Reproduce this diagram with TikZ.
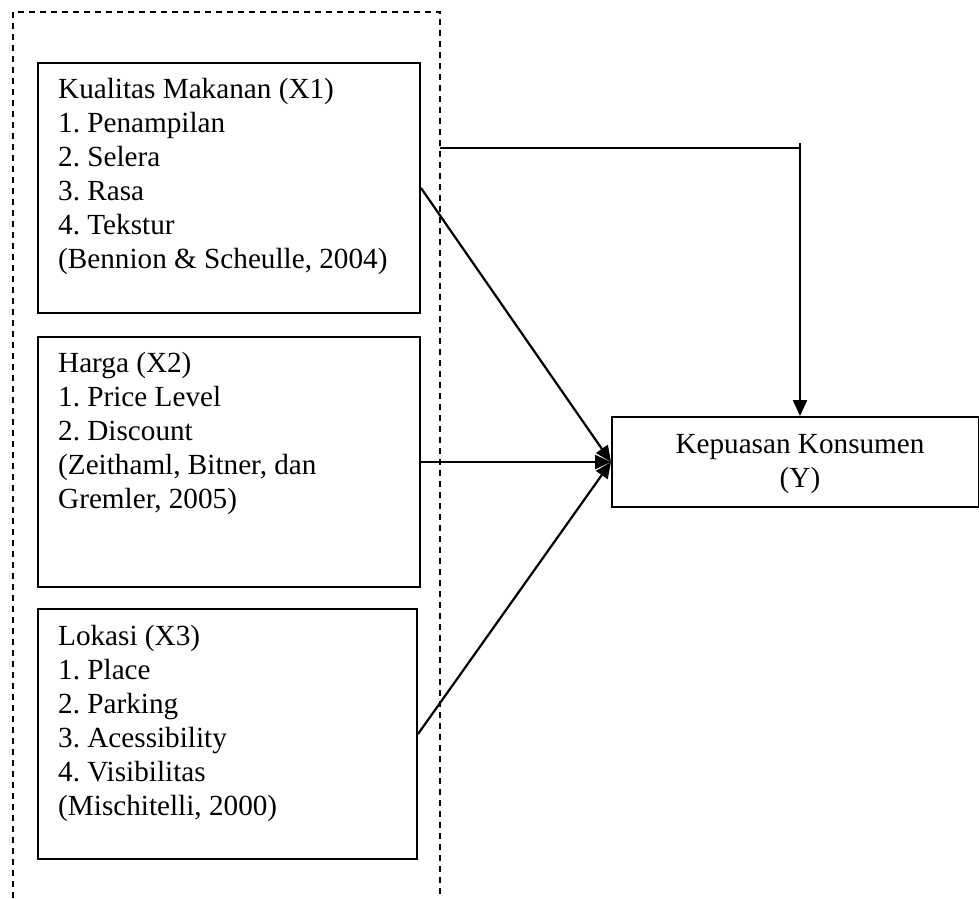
\documentclass[tikz,border=0pt]{standalone}
\usepackage{fontspec}
\setmainfont{Liberation Serif}
\usetikzlibrary{arrows.meta}
\frenchspacing
\begin{document}
\begin{tikzpicture}[x=1pt,y=-1pt,
  box/.style={draw, line width=2pt, inner sep=0pt, anchor=north west},
  txt/.style={anchor=base west, align=left, inner sep=0pt, font=\fontsize{29.2}{34}\selectfont\frenchspacing},
  conn/.style={line width=2.2pt, -{Triangle[length=16pt,width=14pt]}},
  frame/.style={line width=1.6pt, dash pattern=on 6pt off 5pt}]
\useasboundingbox (0,0) rectangle (979,898);
% dashed frame (open at bottom)
\draw[frame] (13,898) -- (13,12) -- (440,12) -- (440,898);
% boxes
\node[box, minimum width=382pt, minimum height=250pt] (b1) at (37,62) {};
\node[box, minimum width=382pt, minimum height=250pt] (b2) at (37,336) {};
\node[box, minimum width=379pt, minimum height=250pt] (b3) at (37,608) {};
\node[box, minimum width=367pt, minimum height=90pt] (y) at (611,416) {};
% texts (anchored at the baseline of their last line)
\node[txt] (t1) at (58,268) {Kualitas Makanan (X1)\\1. Penampilan\\2. Selera\\3. Rasa\\4. Tekstur\\(Bennion \& Scheulle, 2004)};
\node[txt] (t2) at (58,508) {Harga (X2)\\1. Price Level\\2. Discount\\(Zeithaml, Bitner, dan\\Gremler, 2005)};
\node[txt] (t3) at (58,815) {Lokasi (X3)\\1. Place\\2. Parking\\3. Acessibility\\4. Visibilitas\\(Mischitelli, 2000)};
\node[txt, anchor=base, align=center] (ty) at (800,487) {Kepuasan Konsumen\\(Y)};
% connectors
\draw[conn] (b1.east) -- (y.west);
\draw[conn] (b2.east) -- (y.west);
\draw[conn] (b3.east) -- (y.west);
\coordinate (c1) at (440,148);
\coordinate (c2) at (800,148);
\coordinate (c3) at (800,143);
\draw[line width=2pt] (c1) -- (c2);
\draw[conn] (c3) -- (c3 |- y.north);
\end{tikzpicture}
\end{document}
